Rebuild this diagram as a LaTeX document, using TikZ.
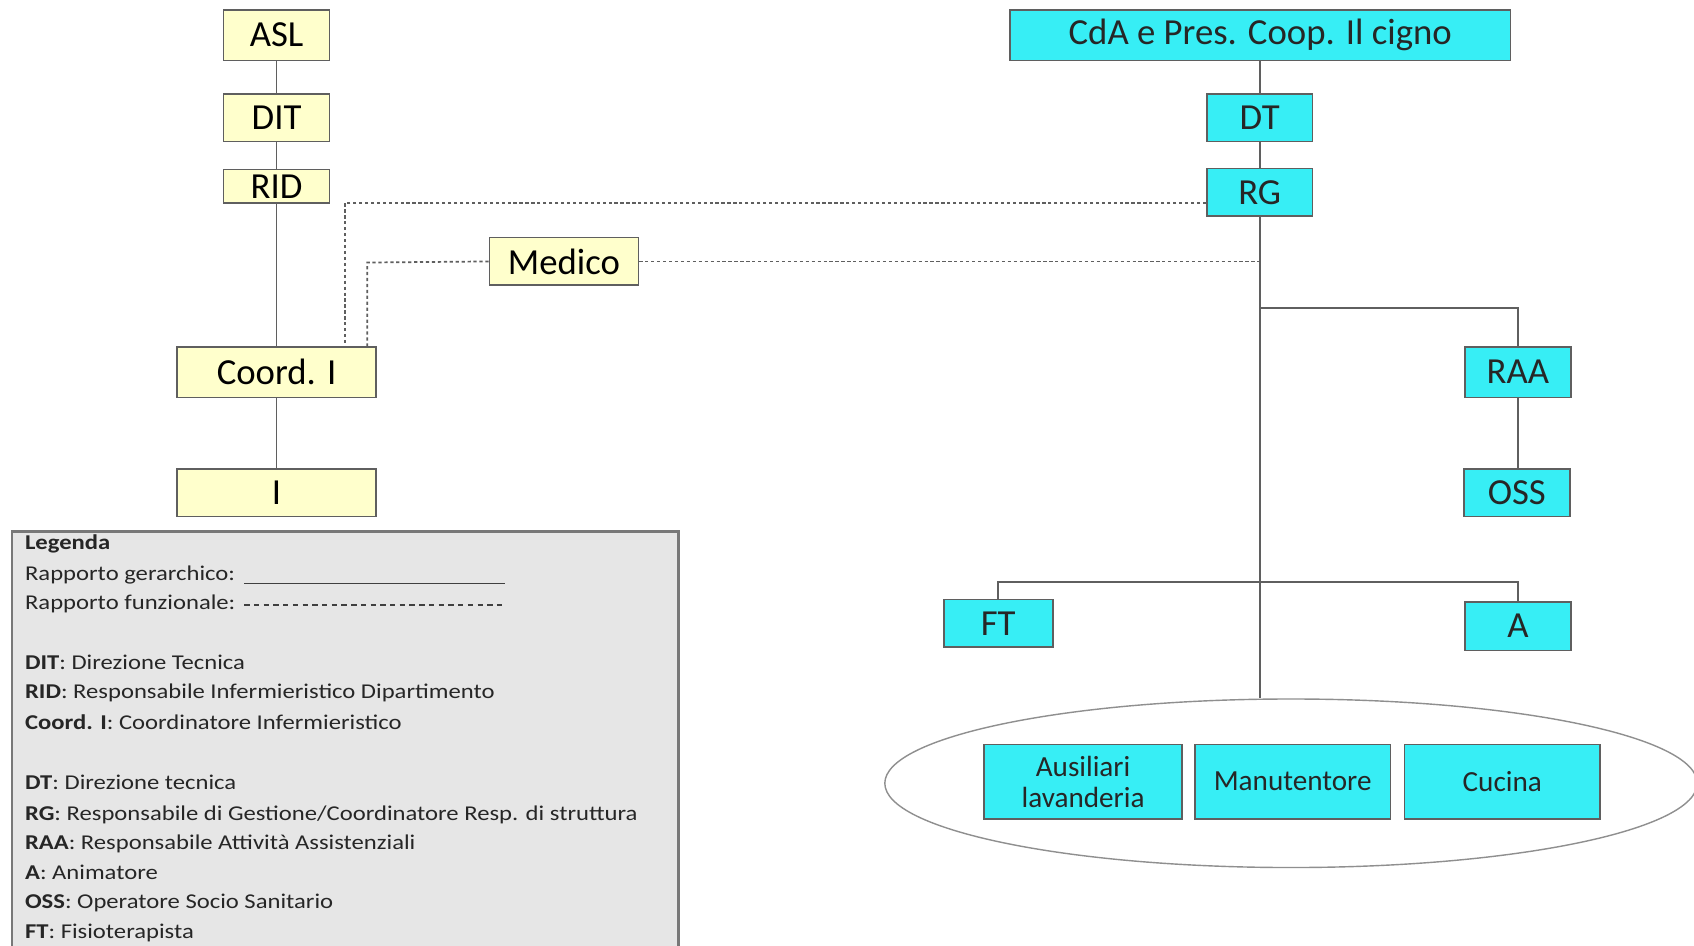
\documentclass[tikz,border=0pt]{standalone}
\usepackage{fontspec}
\setmainfont{Carlito}
\newfontfamily\lgfont[FakeStretch=1.17]{Carlito}
\usetikzlibrary{shapes.geometric}
\definecolor{ybox}{RGB}{255,255,204}
\definecolor{cbox}{RGB}{55,238,245}
\definecolor{bord}{RGB}{95,95,95}
\definecolor{lgfill}{RGB}{230,230,230}
\definecolor{lgbord}{RGB}{120,120,120}
\begin{document}
\begin{tikzpicture}[x=1pt,y=-1pt,
  yb/.style={draw=bord, fill=ybox, line width=1.5pt, inner sep=0pt, text=black, font=\fontsize{34}{36}\selectfont},
  cb/.style={draw=bord, fill=cbox, line width=1.5pt, inner sep=0pt, text=black!85, font=\fontsize{34}{36}\selectfont},
  cbs/.style={cb, font=\fontsize{27}{33}\selectfont, align=center},
  hier/.style={draw=bord, line width=1.6pt},
  func/.style={draw=bord, line width=1.6pt, dash pattern=on 3pt off 2.5pt},
  lgtext/.style={anchor=west, inner sep=0pt, text height=14pt, text depth=4pt, text=black!85, font=\lgfont\fontsize{19.5}{24}\selectfont},
]
\useasboundingbox (0,0) rectangle (1568,875);
\fill[white] (0,0) rectangle (1568,875);

% connector helper points
\coordinate (d1) at (319,188);
\coordinate (d2) at (340,243);
\coordinate (j1) at (1166,285);
\coordinate (j2) at (1166,539);

% ellipse group
\node[draw=bord!70, line width=1.3pt, fill=white, ellipse, minimum width=752pt, minimum height=156pt, inner sep=0pt] (ell) at (1195,725) {};

% left column
\node[yb, minimum width=98pt, minimum height=47pt] (asl) at (256,32.5) {ASL};
\node[yb, minimum width=98pt, minimum height=44pt] (dit) at (256,109) {DIT};
\node[yb, minimum width=98pt, minimum height=31pt] (rid) at (256,172.5) {RID};
\node[yb, minimum width=184pt, minimum height=47pt] (coord) at (256,344.5) {Coord. I};
\node[yb, minimum width=184pt, minimum height=44pt] (ii) at (256,456) {I};
\node[yb, minimum width=138pt, minimum height=44pt] (medico) at (522,242) {Medico};

% right column
\node[cb, minimum width=463pt, minimum height=47pt] (cda) at (1166.5,32.5) {CdA e Pres. Coop. Il cigno};
\node[cb, minimum width=98pt, minimum height=44pt] (dt) at (1166,109) {DT};
\node[cb, minimum width=98pt, minimum height=44pt] (rg) at (1166,178) {RG};
\node[cb, minimum width=98pt, minimum height=47pt] (raa) at (1405,344.5) {RAA};
\node[cb, minimum width=98pt, minimum height=44pt] (oss) at (1404,456) {OSS};
\node[cb, minimum width=101pt, minimum height=44pt] (ft) at (924,577) {FT};
\node[cb, minimum width=98pt, minimum height=45pt] (aa) at (1405,579.5) {A};
\node[cbs, minimum width=183pt, minimum height=69pt] (aus) at (1002.5,723.5) {Ausiliari\\[-4pt]lavanderia};
\node[cbs, minimum width=181pt, minimum height=69pt] (man) at (1196.5,723.5) {Manutentore};
\node[cbs, minimum width=181pt, minimum height=69pt] (cuc) at (1390.5,723.5) {Cucina};

% hierarchical lines
\draw[hier] (asl) -- (dit);
\draw[hier] (dit) -- (rid);
\draw[hier] (rid) -- (coord);
\draw[hier] (coord) -- (ii);
\draw[hier] (cda.south -| dt.north) -- (dt.north);
\draw[hier] (dt) -- (rg);
\draw[hier] (rg.south) -- (rg.south |- ell.north);
\draw[hier] (j1) -| (raa.north);
\draw[hier] (raa.south) -- (raa.south |- oss.north);
\draw[hier] (ft.north) |- (j2) -| (aa.north);

% functional lines
\draw[func] (d1 -| rg.west) -- (d1) -- (d1 |- coord.north);
\draw[func] (medico.west) -- (d2) -- (d2 |- coord.north);
\draw[func] (medico.east) -- (medico.east -| rg.south);

% legend
\node[draw=lgbord, fill=lgfill, line width=2pt, minimum width=617pt, minimum height=400pt, anchor=north west, inner sep=0pt] (leg) at (10,491) {};
\node[lgtext] (l1) at (23,504) {\textbf{Legenda}};
\node[lgtext] (l2) at (23,532) {Rapporto gerarchico:};
\node[lgtext] (l3) at (23,559) {Rapporto funzionale:};
\node[lgtext] (l4) at (23,615) {\textbf{DIT}: Direzione Tecnica};
\node[lgtext] (l5) at (23,642) {\textbf{RID}: Responsabile Infermieristico Dipartimento};
\node[lgtext] (l6) at (23,670) {\textbf{Coord. I}: Coordinatore Infermieristico};
\node[lgtext] (l7) at (23,726) {\textbf{DT}: Direzione tecnica};
\node[lgtext] (l8) at (23,754) {\textbf{RG}: Responsabile di Gestione/Coordinatore Resp. di struttura};
\node[lgtext] (l9) at (23,781) {\textbf{RAA}: Responsabile Attività Assistenziali};
\node[lgtext] (l10) at (23,809) {\textbf{A}: Animatore};
\node[lgtext] (l11) at (23,836) {\textbf{OSS}: Operatore Socio Sanitario};
\node[lgtext] (l12) at (23,864) {\textbf{FT}: Fisioterapista};
\coordinate (g1) at (226,540);
\coordinate (g2) at (467,540);
\coordinate (f1) at (226,560);
\coordinate (f2) at (467,560);
\draw[draw=black!75, line width=1.1pt] (g1) -- (g2);
\draw[draw=black!75, line width=1.1pt, dash pattern=on 5pt off 4pt] (f1) -- (f2);
\end{tikzpicture}
\end{document}
